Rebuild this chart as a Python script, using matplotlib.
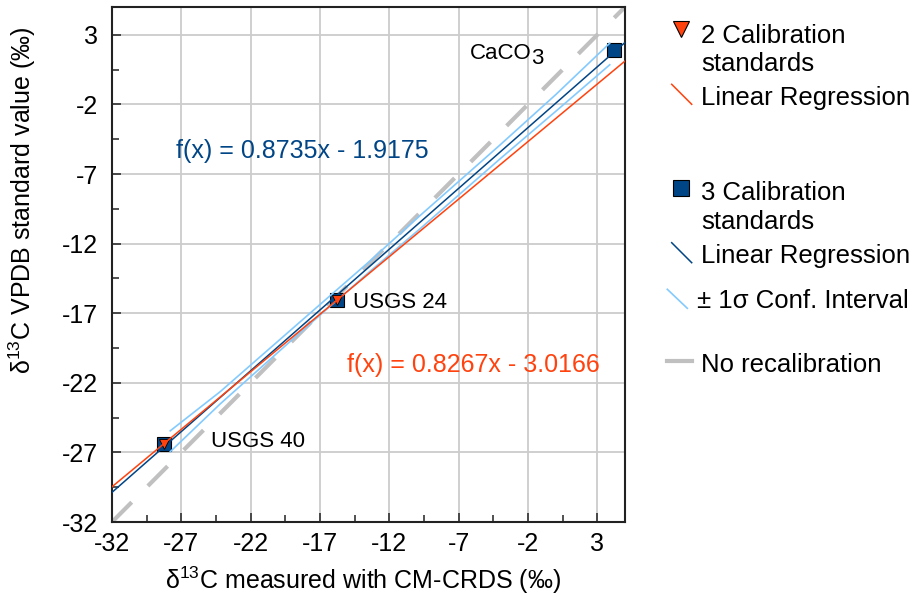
import numpy as np
import matplotlib.pyplot as plt

plt.rcParams['font.family'] = ['Liberation Sans', 'DejaVu Sans']
plt.rcParams['mathtext.fontset'] = 'custom'
plt.rcParams['mathtext.rm'] = 'Liberation Sans'
plt.rcParams['mathtext.it'] = 'Liberation Sans:italic'
plt.rcParams['axes.unicode_minus'] = False

# calibration standards: measured value (x) vs. VPDB standard value (y)
meas_2 = [-28.27, -15.80]
std_2 = [-26.39, -16.05]
meas_3 = [-28.27, -15.80, 4.19]
std_3 = [-26.39, -16.05, 1.92]

# regression coefficients printed in the chart
slope_2, icpt_2 = 0.8267, -3.0166
slope_3, icpt_3 = 0.8735, -1.9175

# +-1 sigma confidence band of the 3-standard regression
ci_x = [-27.8, -24.2, -18.5, -13.4, -9.8, -4.0, 0.0, 3.9]
ci_upper = [-25.45, -22.64, -17.68, -13.25, -10.0, -4.9, -1.3, 2.4]
ci_lower = [-26.95, -23.52, -18.45, -14.0, -10.95, -5.9, -2.5, 0.85]

orange = '#ff420e'
blue = '#004586'
light = '#83caff'
gray = '#c0c0c0'
dark = '#222222'

fig = plt.figure(figsize=(9.16, 6.0), dpi=100)
ax = fig.add_axes([112 / 916, 78 / 600, 513 / 916, 515 / 600])

ax.set_xlim(-32, 5)
ax.set_ylim(-32, 5)
major = np.arange(-32, 4, 5)
minor = np.arange(-29.5, 5, 5)
ax.set_xticks(major)
ax.set_xticks(minor, minor=True)
ax.set_yticks(major)
ax.set_yticks(minor, minor=True)
ax.grid(True, which='major', color='#cccccc', lw=1.3)
ax.set_axisbelow(True)
ax.tick_params(which='both', direction='in', labelsize=18, width=1.1, color=dark)
ax.tick_params(which='major', length=6.5)
ax.tick_params(which='minor', length=5)
ax.tick_params(axis='y', pad=10)
ax.tick_params(axis='x', pad=7)
for s in ax.spines.values():
    s.set_linewidth(1.5)
    s.set_color(dark)

# no recalibration (1:1 line)
ax.axline((0, 0), slope=1, color=gray, lw=3, dashes=(6.7, 5.5), zorder=2)

ax.plot(meas_3, std_3, 's', ms=10, mfc=blue, mec='black', mew=0.8, zorder=3)
ax.plot(ci_x, ci_upper, color=light, lw=1.2, zorder=4)
ax.plot(ci_x, ci_lower, color=light, lw=1.2, zorder=4)
ax.axline((0, icpt_3), slope=slope_3, color=blue, lw=1.1, zorder=5)
ax.plot(meas_2, std_2, 'v', ms=7.5, mfc=orange, mec='black', mew=0.6, zorder=6)
ax.axline((0, icpt_2), slope=slope_2, color=orange, lw=1.1, zorder=7)

ax.text(-24.86, -26.59, 'USGS 40', fontsize=16, va='baseline')
ax.text(-14.6, -16.65, 'USGS 24', fontsize=16, va='baseline')
ax.text(-6.19, 1.24, 'CaCO', fontsize=16, va='baseline')
ax.annotate('3', (-6.19, 1.24), xytext=(44, -3), textcoords='offset points',
            fontsize=16, va='baseline')
ax.text(-27.39, -5.87, f'f(x) = {slope_3}x - {abs(icpt_3)}', color=blue,
        fontsize=18, va='baseline')
ax.text(-15.06, -21.2, f'f(x) = {slope_2}x - {abs(icpt_2)}', color=orange,
        fontsize=18, va='baseline')

ax.set_ylabel('δ$^{13}$C VPDB standard value (‰)', fontsize=18, va='center')
ax.yaxis.set_label_coords(-0.175, 0.625)
ax.set_xlabel('δ$^{13}$C measured with CM-CRDS (‰)', fontsize=18, va='center')
ax.xaxis.set_label_coords(0.489, -0.113)

# legend, laid out in pixel coordinates on an overlay axes
lax = fig.add_axes([0, 0, 1, 1])
lax.set_xlim(0, 916)
lax.set_ylim(600, 0)
lax.axis('off')

lax.plot([680.5], [29], 'v', ms=11, mfc=orange, mec='black', mew=0.8)
lax.plot([671.7, 691.7], [84.3, 104.3], color=orange, lw=1.1)
lax.plot([680.5], [187.5], 's', ms=11, mfc=blue, mec='black', mew=0.8)
lax.plot([671.7, 691.7], [242.7, 262.7], color=blue, lw=1.1)
lax.plot([667.3, 687.3], [289.3, 308.3], color=light, lw=1.2)
lax.plot([666.7, 691.7], [360.7, 360.7], color=gray, lw=3)

legend_rows = [
    (701, 42.7, '2 Calibration'),
    (701, 71.0, 'standards'),
    (701, 105.0, 'Linear Regression'),
    (701, 200.0, '3 Calibration'),
    (701, 229.3, 'standards'),
    (701, 263.3, 'Linear Regression'),
    (696.7, 308.3, '± 1σ Conf. Interval'),
    (701, 371.7, 'No recalibration'),
]
for x, y, t in legend_rows:
    lax.text(x, y, t, fontsize=18.5, va='baseline')

fig.savefig('out.png', dpi=100)
